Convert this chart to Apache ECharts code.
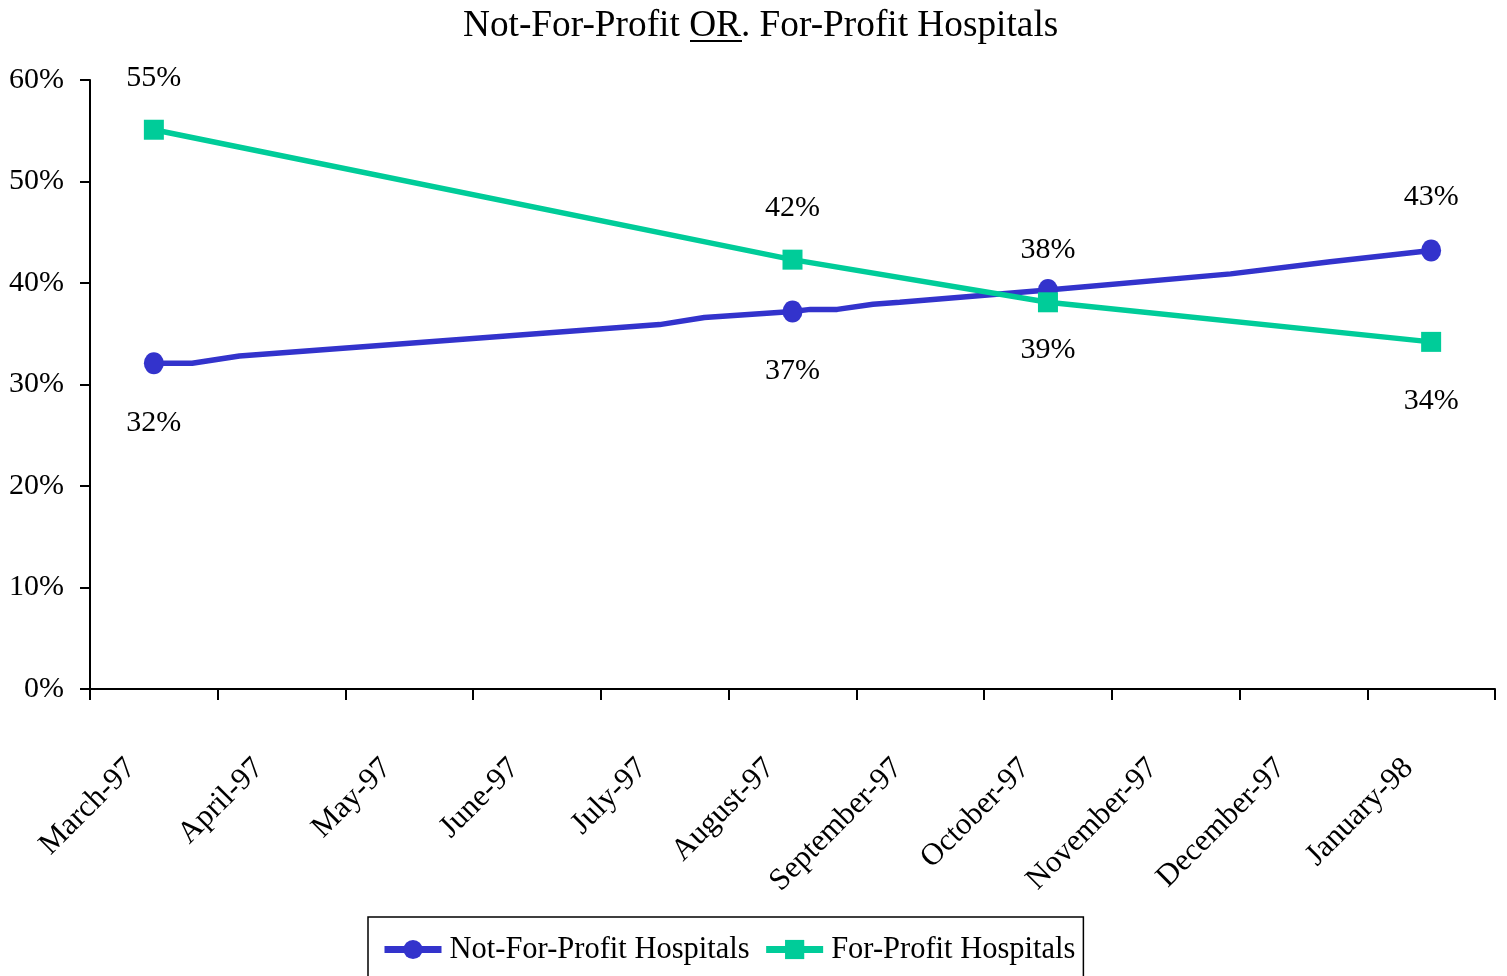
<!DOCTYPE html>
<html>
<head>
<meta charset="utf-8">
<script src="https://cdn.jsdelivr.net/npm/echarts@6/dist/echarts.min.js"></script>
<style>
  html, body { margin: 0; padding: 0; background: #fff; }
  #chart { width: 1507px; height: 976px; }
</style>
</head>
<body>
<div id="chart"></div>
<script>
var chart = echarts.init(document.getElementById('chart'));

var FONT = "'Liberation Serif', 'Times New Roman', serif";

// month labels on the x axis
var months = ['March-97', 'April-97', 'May-97', 'June-97', 'July-97', 'August-97',
    'September-97', 'October-97', 'November-97', 'December-97', 'January-98'];

// Not-For-Profit: position along the axis in months (0.5 = middle of March-97), share in %
var nfpPos = [0.5, 0.80, 1.17, 4.46, 4.81, 5.5, 5.64, 5.85, 6.13, 6.34, 7.5, 8.93, 9.71, 10.5];
var nfpVal = [32.1, 32.1, 32.8, 35.9, 36.6, 37.2, 37.4, 37.4, 37.9, 38.1, 39.3, 40.9, 42.1, 43.2];

// For-Profit
var fpPos = [0.5, 5.5, 7.5, 10.5];
var fpVal = [55.1, 42.3, 38.1, 34.2];

// y ticks
var yMin = 0, yMax = 60, yStep = 10;

// which points carry a marker + label, and where the label goes
var nfpLabelPos = {0.5: 'bottom', 5.5: 'bottom', 7.5: 'bottom', 10.5: 'top'};
var fpLabelPos = {0.5: 'top', 5.5: 'top', 7.5: 'top', 10.5: 'bottom'};

function buildData(pos, val, labelPos) {
    var out = [];
    for (var i = 0; i < pos.length; i++) {
        var p = labelPos[pos[i]];
        if (p) {
            out.push({
                value: [pos[i], val[i]],
                label: {show: true, position: p, distance: p === 'top' ? 27 : 34}
            });
        } else {
            out.push({value: [pos[i], val[i]], symbol: 'none'});
        }
    }
    return out;
}

var labelStyle = {
    show: false,
    fontFamily: FONT,
    fontSize: 30,
    color: '#000',
    formatter: function (p) { return Math.round(p.value[1]) + '%'; }
};

var option = {
    animation: false,
    backgroundColor: '#fff',
    title: {
        text: 'Not-For-Profit OR. For-Profit Hospitals',
        left: 463,
        top: 8,
        padding: 0,
        textStyle: {fontFamily: FONT, fontSize: 37.3, fontWeight: 'normal', color: '#000'}
    },
    // underline under "OR"
    graphic: [{
        type: 'line',
        shape: {x1: 690, y1: 41, x2: 742, y2: 41},
        style: {stroke: '#000', lineWidth: 2}
    }],
    grid: {left: 90, right: 12, top: 80, bottom: 287, containLabel: false, outerBoundsMode: 'none'},
    legend: {
        left: 368,
        top: 917,
        padding: [17, 8, 16, 13],
        borderColor: '#000',
        borderWidth: 1.5,
        itemWidth: 57,
        itemHeight: 24,
        itemGap: 13,
        selectedMode: false,
        lineStyle: {width: 7},
        textStyle: {fontFamily: FONT, fontSize: 30.5, color: '#000', padding: [0, 0, 0, 3]},
        data: ['Not-For-Profit Hospitals', 'For-Profit Hospitals']
    },
    xAxis: [{
        type: 'category',
        data: months,
        boundaryGap: true,
        axisLine: {lineStyle: {color: '#000', width: 2}},
        axisTick: {show: true, interval: 0, length: 11, lineStyle: {color: '#000', width: 2}},
        axisLabel: {
            interval: 0, rotate: 45, margin: 52,
            padding: [0, 32, 0, 0],
            fontFamily: FONT, fontSize: 31, color: '#000'
        },
        splitLine: {show: false}
    }, {
        type: 'value',
        min: 0,
        max: months.length,
        show: false
    }],
    yAxis: {
        type: 'value',
        min: yMin,
        max: yMax,
        interval: yStep,
        axisLine: {show: true, lineStyle: {color: '#000', width: 2}},
        axisTick: {show: true, length: 10, lineStyle: {color: '#000', width: 2}},
        axisLabel: {
            margin: 26,
            fontFamily: FONT, fontSize: 30, color: '#000',
            formatter: '{value}%'
        },
        splitLine: {show: false}
    },
    series: [{
        name: 'Not-For-Profit Hospitals',
        type: 'line',
        xAxisIndex: 1,
        data: buildData(nfpPos, nfpVal, nfpLabelPos),
        symbol: 'circle',
        symbolSize: [20, 22],
        lineStyle: {color: '#3333CC', width: 5.5},
        itemStyle: {color: '#3333CC'},
        label: labelStyle
    }, {
        name: 'For-Profit Hospitals',
        type: 'line',
        xAxisIndex: 1,
        data: buildData(fpPos, fpVal, fpLabelPos),
        symbol: 'rect',
        symbolSize: 20,
        lineStyle: {color: '#00CC99', width: 5.5},
        itemStyle: {color: '#00CC99'},
        label: labelStyle
    }]
};

chart.setOption(option);
</script>
</body>
</html>
